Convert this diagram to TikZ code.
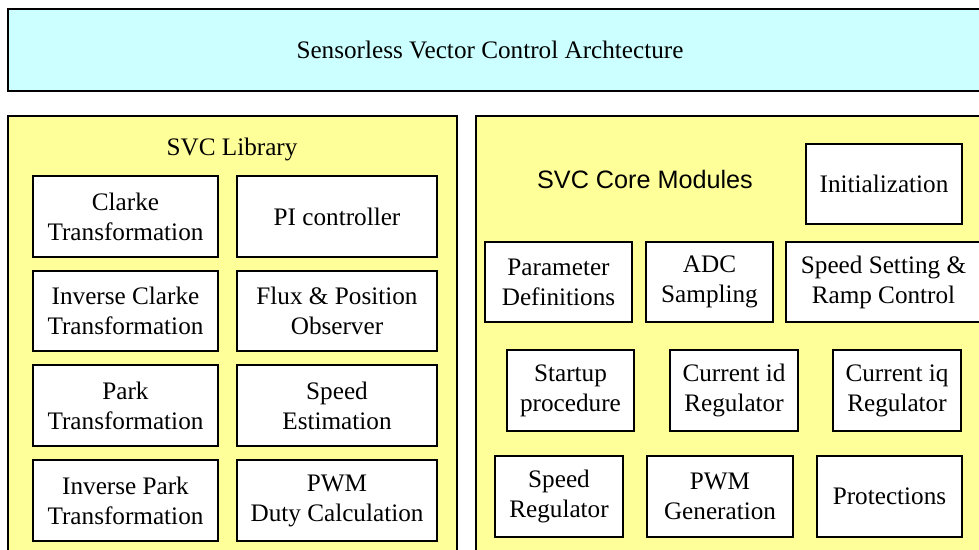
\documentclass[tikz,border=0pt]{standalone}
\usepackage{fontspec}
\setmainfont{Liberation Serif}
\newfontfamily\arialfont{Liberation Sans}
\definecolor{bannercyan}{RGB}{204,255,255}
\definecolor{panelyellow}{RGB}{255,255,153}
\begin{document}
\begin{tikzpicture}[x=0.75pt,y=-0.75pt,
  every node/.style={font=\fontsize{18.9}{22.5}\selectfont},
  % rectangle given by its corners (x1,y1) (x2,y2) in pixel units
  pxbox/.style n args={4}{draw, line width=2pt, align=center, inner sep=0pt,
    minimum width={(#3-#1)*0.75pt}, minimum height={(#4-#2)*0.75pt},
    at={({(#1+#3)/2},{(#2+#4)/2})}},
  modbox/.style={fill=white},
  panel/.style={fill=panelyellow},
  banner/.style={fill=bannercyan}]
\useasboundingbox (0,0) rectangle (979,550);
\clip (0,0) rectangle (979,550);

% title banner
\node[pxbox={8}{9}{990}{91}, banner] (title) {};
\node (titletext) at (490,50) {Sensorless Vector Control Archtecture};

% library panel
\node[pxbox={8}{116}{457}{560}, panel] (lib) {};
\node (libtitle) at (232,149) {SVC Library};
\node[pxbox={33}{176}{218}{257}, modbox] (clarke) {Clarke\\Transformation};
\node[pxbox={237}{176}{437}{257}, modbox] (pi) {PI controller};
\node[pxbox={33}{271}{218}{351}, modbox] (iclarke) {Inverse Clarke\\Transformation};
\node[pxbox={237}{271}{437}{351}, modbox] (flux) {Flux \& Position\\Observer};
\node[pxbox={33}{365}{218}{446}, modbox] (park) {Park\\Transformation};
\node[pxbox={237}{365}{437}{446}, modbox] (speedest) {Speed\\Estimation};
\node[pxbox={33}{460}{218}{541}, modbox] (ipark) {Inverse Park\\Transformation};
\node[pxbox={237}{460}{437}{541}, modbox] (duty) {PWM\\Duty Calculation};

% core modules panel
\node[pxbox={476}{116}{990}{560}, panel] (core) {};
\node[font=\arialfont\fontsize{18.9}{22.5}\selectfont] (coretitle) at (645,179) {SVC Core Modules};
\node[pxbox={806}{144}{962}{224}, modbox] (init) {Initialization};
\node[pxbox={485}{242}{632}{322}, modbox] (param) {Parameter\\Definitions};
\node[pxbox={646}{242}{773}{322}, modbox] (adc) {ADC\\Sampling};
\node[pxbox={786}{242}{981}{322}, modbox] (ramp) {Speed Setting \&\\Ramp Control};
\node[pxbox={507}{350}{634}{431}, modbox] (startup) {Startup\\procedure};
\node[pxbox={670}{350}{798}{431}, modbox] (idreg) {Current id\\Regulator};
\node[pxbox={833}{350}{961}{431}, modbox] (iqreg) {Current iq\\Regulator};
\node[pxbox={495}{456}{623}{537}, modbox] (speedreg) {Speed\\Regulator};
\node[pxbox={647}{456}{793}{537}, modbox] (pwmgen) {PWM\\Generation};
\node[pxbox={817}{456}{962}{537}, modbox] (prot) {Protections};
\end{tikzpicture}
\end{document}
